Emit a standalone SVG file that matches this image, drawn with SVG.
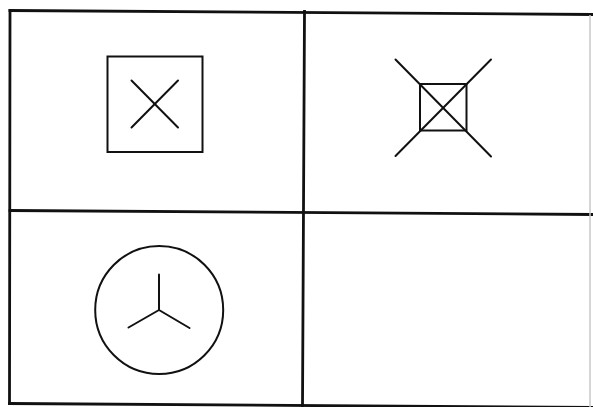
<svg xmlns="http://www.w3.org/2000/svg" width="593" height="407" viewBox="0 0 593 407">
<style>
.frame{stroke:#111;stroke-width:2.8;fill:none;stroke-linecap:square}
.sym{stroke:#111;stroke-width:2;fill:none;stroke-linecap:round}
.faint{stroke:#c8c8c8;stroke-width:1.5;fill:none}
</style>
<rect width="593" height="407" fill="#fff"/>
<g id="connectors">
<line class="frame" x1="10" y1="10.5" x2="592" y2="14.5"/>
<line class="frame" x1="10" y1="10.5" x2="9.5" y2="403.5"/>
<line class="frame" x1="9.5" y1="403.5" x2="592" y2="407.5"/>
<line class="frame" x1="304.5" y1="11.5" x2="302.5" y2="407"/>
<line class="frame" x1="10" y1="210.5" x2="592" y2="214.5"/>
<line class="faint" x1="590" y1="15" x2="590" y2="407"/>
</g>
<g id="box-cross">
<rect class="sym" x="107.5" y="56.5" width="95" height="95.5"/>
<line class="sym" x1="131.5" y1="80.5" x2="178" y2="127.5"/>
<line class="sym" x1="178" y1="80.5" x2="131.5" y2="127.5"/>
</g>
<g id="small-box-cross">
<rect class="sym" x="420" y="84" width="46.5" height="46.5"/>
<line class="sym" x1="395.5" y1="59.5" x2="491" y2="156.5"/>
<line class="sym" x1="491" y1="59.5" x2="395.5" y2="156"/>
</g>
<g id="circle-y">
<circle class="sym" cx="159.2" cy="310" r="64"/>
<line class="sym" x1="159" y1="310" x2="159" y2="274.5"/>
<line class="sym" x1="159" y1="310" x2="128.5" y2="327.5"/>
<line class="sym" x1="159" y1="310" x2="189.5" y2="328"/>
</g>
</svg>
